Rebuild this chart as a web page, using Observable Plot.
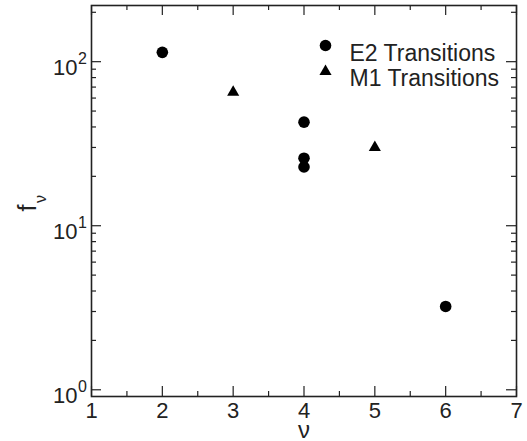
<!DOCTYPE html>
<html><head><meta charset="utf-8">
<script src="https://cdn.jsdelivr.net/npm/d3@7"></script>
<script src="https://cdn.jsdelivr.net/npm/@observablehq/plot@0.6"></script>
<style>body{margin:0;background:#fff} #chart svg{display:block}</style>
</head><body><div id="chart"></div>
<script>
// Data
const e2Nu = [2, 4, 4, 4, 6];
const e2F = [114, 42.8, 25.8, 22.8, 3.22];
const m1Nu = [3, 5];
const m1F = [65, 30];
const xTicks = [1, 2, 3, 4, 5, 6, 7];
const xMinorTicks = [1.5, 2.5, 3.5, 4.5, 5.5, 6.5];
const yMajorTicks = [1, 10, 100];
const yExponents = ["0", "1", "2"];
const legendLabels = ["E2 Transitions", "M1 Transitions"];

const W = 527, H = 441, mt = 5, mr = 11, mb = 45, ml = 91;
const pw = W - ml - mr, ph = H - mt - mb;
const yDomain = [0.91, 220];
const yMinorTicks = d3.scaleLog().domain(yDomain).ticks().filter(d => !yMajorTicks.includes(d));

const e2 = e2Nu.map((x, i) => ({x, y: e2F[i]}));
const m1 = m1Nu.map((x, i) => ({x, y: m1F[i]}));
const yMaj = yMajorTicks.map((v, i) => ({v, e: yExponents[i]}));

const ink = "#222";
const font = "'Liberation Sans', Arial, Helvetica, sans-serif";

const chart = Plot.plot({
  width: W, height: H,
  marginTop: mt, marginRight: mr, marginBottom: mb, marginLeft: ml,
  style: {fontFamily: font, background: "#fff", color: ink},
  x: {domain: [1, 7], axis: null},
  y: {type: "log", domain: yDomain, axis: null},
  marks: [
    // tick marks (inward, on all four sides)
    Plot.tickY(yMajorTicks, {y: d => d, insetRight: pw - 10, stroke: ink, strokeWidth: 1.2}),
    Plot.tickY(yMajorTicks, {y: d => d, insetLeft: pw - 10, stroke: ink, strokeWidth: 1.2}),
    Plot.tickY(yMinorTicks, {y: d => d, insetRight: pw - 5, stroke: ink, strokeWidth: 1.2}),
    Plot.tickY(yMinorTicks, {y: d => d, insetLeft: pw - 5, stroke: ink, strokeWidth: 1.2}),
    Plot.tickX(xTicks, {x: d => d, insetTop: ph - 10, stroke: ink, strokeWidth: 1.2}),
    Plot.tickX(xTicks, {x: d => d, insetBottom: ph - 10, stroke: ink, strokeWidth: 1.2}),
    Plot.tickX(xMinorTicks, {x: d => d, insetTop: ph - 5, stroke: ink, strokeWidth: 1.2}),
    Plot.tickX(xMinorTicks, {x: d => d, insetBottom: ph - 5, stroke: ink, strokeWidth: 1.2}),
    Plot.frame({stroke: ink, strokeWidth: 1.6}),
    // x tick labels
    Plot.text(xTicks, {x: d => d, frameAnchor: "bottom", lineAnchor: "top", dy: 6, text: d => String(d), fontSize: 22, fill: ink}),
    // y tick labels 10^n
    Plot.text(yMaj, {y: "v", frameAnchor: "left", textAnchor: "end", dx: -14, dy: 6.5, text: () => "10", fontSize: 22, fill: ink}),
    Plot.text(yMaj, {y: "v", frameAnchor: "left", textAnchor: "start", dx: -13.5, dy: -3, text: "e", fontSize: 16, fill: ink}),
    // axis labels
    Plot.text(["ν"], {frameAnchor: "bottom", lineAnchor: "bottom", dy: 41, text: d => d, fontSize: 24, fill: ink}),
    Plot.text(["f"], {frameAnchor: "left", lineAnchor: "bottom", textAnchor: "middle", rotate: -90, dx: -56, dy: 7, text: d => d, fontSize: 25, fill: ink}),
    Plot.text(["ν"], {frameAnchor: "left", lineAnchor: "bottom", textAnchor: "middle", rotate: -90, dx: -46, dy: -2, text: d => d, fontSize: 16, fill: ink}),
    // data
    Plot.dot(e2, {x: "x", y: "y", r: 5.8, symbol: "circle", fill: "#000", stroke: "none"}),
    Plot.dot(m1, {x: "x", y: "y", r: 4.5, symbol: "triangle", fill: "#000", stroke: "none"}),
    // legend
    Plot.dot([legendLabels[0]], {frameAnchor: "top-left", dx: 234, dy: 40, r: 5.8, symbol: "circle", fill: "#000", stroke: "none"}),
    Plot.dot([legendLabels[1]], {frameAnchor: "top-left", dx: 234, dy: 66, r: 4.5, symbol: "triangle", fill: "#000", stroke: "none"}),
    Plot.text([legendLabels[0]], {frameAnchor: "top-left", textAnchor: "start", dx: 258, dy: 39, text: d => d, fontSize: 23, fill: ink}),
    Plot.text([legendLabels[1]], {frameAnchor: "top-left", textAnchor: "start", dx: 258, dy: 64, text: d => d, fontSize: 23, fill: ink})
  ]
});
document.getElementById("chart").appendChild(chart);
</script>
</body></html>
